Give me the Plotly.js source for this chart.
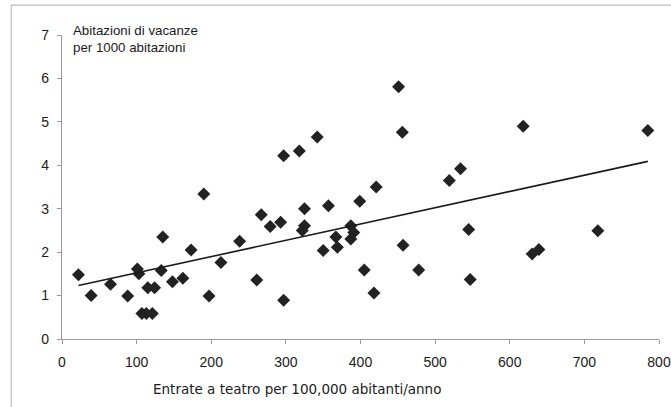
<!DOCTYPE html>
<html>
<head>
<meta charset="utf-8">
<script src="https://cdn.plot.ly/plotly-3.0.1.min.js"></script>
<style>html,body{margin:0;padding:0;background:#fff;}#chart{width:671px;height:407px;}</style>
</head>
<body>
<div id="chart"></div>
<script>
// Entrate a teatro per 100,000 abitanti/anno
var theatreX = [22, 39, 65, 88, 101, 103, 107, 113, 121, 115, 124, 133, 148, 162, 197, 213,
  135, 190, 173, 238, 451, 456, 342, 318, 297, 421, 399, 519, 267, 325, 357, 279, 293,
  325, 322, 387, 391, 387, 367, 369, 350, 457, 405, 478, 418, 261, 297, 618, 785, 534,
  545, 718, 630, 639, 547];
// Abitazioni di vacanze per 1000 abitazioni
var holidayY = [1.48, 1.00, 1.26, 0.99, 1.61, 1.50, 0.59, 0.59, 0.59, 1.18, 1.18, 1.58, 1.32, 1.40, 0.99, 1.76,
  2.35, 3.34, 2.05, 2.25, 5.81, 4.76, 4.65, 4.33, 4.22, 3.50, 3.17, 3.65, 2.86, 3.00, 3.07, 2.59, 2.69,
  2.61, 2.50, 2.61, 2.45, 2.30, 2.35, 2.11, 2.04, 2.16, 1.59, 1.59, 1.06, 1.36, 0.89, 4.90, 4.80, 3.92,
  2.52, 2.49, 1.96, 2.06, 1.37];
// trend line endpoints
var trendX = [22, 785];
var trendY = [1.23, 4.09];
var xTicks = [0, 100, 200, 300, 400, 500, 600, 700, 800];
var yTicks = [0, 1, 2, 3, 4, 5, 6, 7];

var tickFont = {family: 'Liberation Sans, Arial, sans-serif', size: 14, color: '#1a1a1a'};
var yTitleFont = {family: 'Liberation Sans, Arial, sans-serif', size: 13.3, color: '#1a1a1a'};
var xTitleFont = {family: 'DejaVu Sans, sans-serif', size: 13.5, color: '#1a1a1a'};

var traces = [
  {x: theatreX, y: holidayY, type: 'scatter', mode: 'markers',
   marker: {symbol: 'diamond', size: 10, color: '#222222'}, cliponaxis: false, hoverinfo: 'skip'},
  {x: trendX, y: trendY, type: 'scatter', mode: 'lines',
   line: {color: '#1a1a1a', width: 1.6}, hoverinfo: 'skip'}
];

var layout = {
  width: 671, height: 407,
  margin: {l: 61.5, r: 12, t: 35, b: 68},
  paper_bgcolor: '#ffffff', plot_bgcolor: '#ffffff',
  showlegend: false,
  font: tickFont,
  xaxis: {range: [0, 800], tickvals: xTicks, ticktext: xTicks.map(String),
    showgrid: false, zeroline: false, showline: true, linecolor: '#9a9a9a', linewidth: 1.2,
    ticks: 'outside', ticklen: 4, tickcolor: '#9a9a9a', tickfont: tickFont,
    ticklabelstandoff: 6, fixedrange: true},
  yaxis: {range: [0, 7], tickvals: yTicks, ticktext: yTicks.map(String),
    showgrid: false, zeroline: false, showline: true, linecolor: '#9a9a9a', linewidth: 1.2,
    ticks: 'outside', ticklen: 4, tickcolor: '#9a9a9a', tickfont: tickFont,
    ticklabelstandoff: 5, fixedrange: true},
  annotations: [
    {xref: 'paper', yref: 'paper', x: 0.0155, y: 1.045, xanchor: 'left', yanchor: 'top', align: 'left',
     showarrow: false, text: 'Abitazioni di vacanze<br>per 1000 abitazioni', font: yTitleFont},
    {xref: 'paper', yref: 'paper', x: 0.149, y: -0.13, xanchor: 'left', yanchor: 'top',
     showarrow: false, text: 'Entrate a teatro per 100,000 abitanti/anno', font: xTitleFont}
  ],
  shapes: [
    {type: 'rect', xref: 'paper', yref: 'paper', x0: -0.085, x1: 1.05, y0: -0.3, y1: 1.098,
     line: {color: '#bdbdbd', width: 1.2}, fillcolor: 'rgba(0,0,0,0)'}
  ]
};

Plotly.newPlot('chart', traces, layout, {displayModeBar: false, staticPlot: true});
</script>
</body>
</html>
